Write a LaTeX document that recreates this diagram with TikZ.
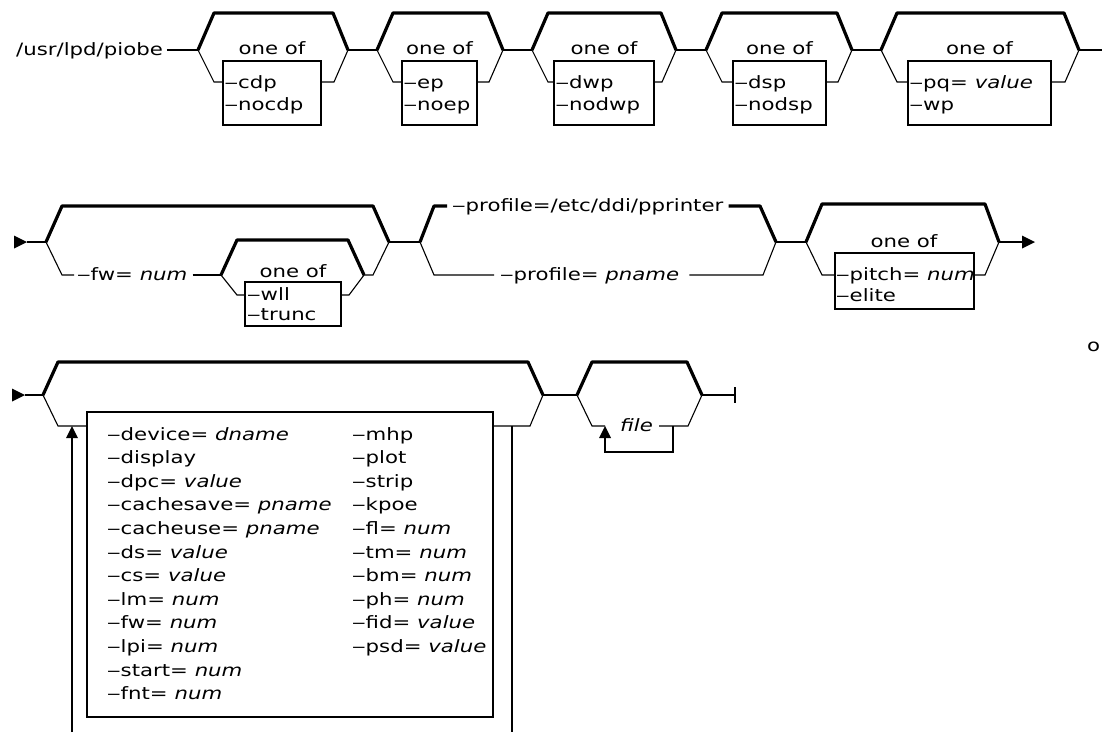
\documentclass[tikz,border=0pt]{standalone}
\usepackage{fontspec}
\setmainfont{DejaVu Sans}[FakeStretch=1.25]
\usetikzlibrary{calc}
\newcommand\dsh{\symbol{"2012}}
\newcommand\fs{\fontsize{17}{20}\selectfont}
\tikzset{
  rline/.style={line width=1.1pt},
  heavy/.style={line width=3.2pt, line join=round},
  optbox/.style={draw, line width=1.1pt, inner sep=0pt, outer sep=0pt},
  lbl/.style={inner sep=0pt, anchor=base west, font=\fs},
}
% one "one of" group of the first row: name, L, R, box left, box right, item 1, item 2
\newcommand\rowonegroup[7]{%
  \coordinate (#1L) at (#2,50);
  \coordinate (#1R) at (#3,50);
  \node[optbox, anchor=north west, minimum width={#5-#4}, minimum height=64] (#1box) at (#4,61) {};
  \node[lbl, anchor=base] (#1one) at ({(#4+#5)/2},54) {one of};
  \node[lbl] (#1a) at ({#4+1.5},88) {#6};
  \node[lbl] (#1b) at ({#4+1.5},110) {#7};
  \draw[heavy] (#1L) -- ({#2+16},13) -- ({#3-15},13) -- (#1R);
  \draw[rline] (#1L) -- ({#2+16},82) -- (#4,82);
  \draw[rline] (#5,82) -- ({#3-14},82) -- (#1R);
}
\begin{document}
\begin{tikzpicture}[x=1pt,y=-1pt]
\useasboundingbox (0,0) rectangle (1102,732);
% ---------------- row 1
\node[lbl] (cmd) at (16,55) {/usr/lpd/piobe};
\rowonegroup{ga}{198}{348}{223}{321}{\dsh cdp}{\dsh nocdp}
\rowonegroup{gb}{377}{503}{402}{477}{\dsh ep}{\dsh noep}
\rowonegroup{gc}{532}{676}{554}{654}{\dsh dwp}{\dsh nodwp}
\rowonegroup{gd}{706}{852}{733}{826}{\dsh dsp}{\dsh nodsp}
\rowonegroup{ge}{881}{1079}{908}{1051}{\dsh pq= \textit{value}}{\dsh wp}
\coordinate (r1end) at (1102,50);
\draw[rline] ($(cmd.east |- gaL)+(4,0)$) -- (gaL);
\draw[rline] (gaR) -- (gbL);
\draw[rline] (gbR) -- (gcL);
\draw[rline] (gcR) -- (gdL);
\draw[rline] (gdR) -- (geL);
\draw[rline] (geR) -- (r1end);
% ---------------- row 2
\coordinate (y2t) at (0,206);
\coordinate (y2l) at (0,275);
\coordinate (ar2) at (27,242);
\fill (ar2) -- ++(-13,-6.5) -- ++(0,13) -- cycle;
\coordinate (aL) at (46,242);
\coordinate (aR) at (389,242);
\draw[rline] (ar2) -- (aL);
\draw[heavy] (aL) -- (62,206) -- (373,206) -- (aR);
\node[lbl] (fw) at (77,280) {\dsh fw= \textit{num}};
\coordinate (bL) at (221,275);
\coordinate (bR) at (364,275);
\draw[rline] (aL) -- (62,275) -- ($(fw.west |- y2l)+(-3,0)$);
\draw[rline] ($(fw.east |- y2l)+(5,0)$) -- (bL);
\draw[heavy] (bL) -- (237,240) -- (348,240) -- (bR);
\node[optbox, anchor=north west, minimum width=96, minimum height=44] (bbox) at (245,282) {};
\node[lbl, anchor=base] (bone) at (293,277) {one of};
\node[lbl] (wll) at (247,300) {\dsh wll};
\node[lbl] (trunc) at (247,320) {\dsh trunc};
\draw[rline] (bL) -- (237,295) -- (245,295);
\draw[rline] (341,295) -- (349,295) -- (bR);
\draw[rline] (bR) -- (373,275) -- (aR);
\coordinate (cL) at (420,242);
\coordinate (cR) at (776,242);
\draw[rline] (aR) -- (cL);
\node[lbl] (prof) at (452,211) {\dsh profile=/etc/ddi/pprinter};
\draw[heavy] (cL) -- (434,206) -- ($(prof.west |- y2t)+(-5,0)$);
\draw[heavy] ($(prof.east |- y2t)+(5,0)$) -- (760,206) -- (cR);
\node[lbl] (pname) at (500,280) {\dsh profile= \textit{pname}};
\draw[rline] (cL) -- (434,275) -- ($(pname.west |- y2l)+(-6,0)$);
\draw[rline] ($(pname.east |- y2l)+(10,0)$) -- (763,275) -- (cR);
\coordinate (dL) at (806,242);
\coordinate (dR) at (999,242);
\draw[rline] (cR) -- (dL);
\draw[heavy] (dL) -- (822,204) -- (985,204) -- (dR);
\node[optbox, anchor=north west, minimum width=139, minimum height=56] (dbox) at (835,253) {};
\node[lbl, anchor=base] (done) at (904,247) {one of};
\node[lbl] (pitch) at (836,280) {\dsh pitch= \textit{num}};
\node[lbl] (elite) at (836,301) {\dsh elite};
\draw[rline] (dL) -- (822,275) -- (835,275);
\draw[rline] (974,275) -- (985,275) -- (dR);
\coordinate (ar2e) at (1035,242);
\draw[rline] (dR) -- (1024,242);
\fill (ar2e) -- ++(-13,-6.5) -- ++(0,13) -- cycle;
\node[lbl] (ostray) at (1087,351) {o};
% ---------------- row 3
\coordinate (ar3) at (25,395);
\fill (ar3) -- ++(-13,-6.5) -- ++(0,13) -- cycle;
\coordinate (eL) at (43,395);
\coordinate (eR) at (543,395);
\draw[rline] (ar3) -- (eL);
\draw[heavy] (eL) -- (58,362) -- (528,362) -- (eR);
\node[optbox, anchor=north west, minimum width=406, minimum height=305] (ebox) at (87,412) {};
\draw[rline] (eL) -- (58,426) -- (87,426);
\draw[rline] (493,426) -- (530,426) -- (eR);
\coordinate (lpR) at (512,732);
\coordinate (lpL) at (72,732);
\coordinate (lptip) at (72,426);
\draw[rline] (512,426) -- (lpR);
\draw[rline] (lpL) -- (72,437);
\fill (lptip) -- ++(-6,12) -- ++(12,0) -- cycle;
\foreach \t [count=\i] in {{\dsh device= \textit{dname}},{\dsh display},{\dsh dpc= \textit{value}},
  {\dsh cachesave= \textit{pname}},{\dsh cacheuse= \textit{pname}},{\dsh ds= \textit{value}},
  {\dsh cs= \textit{value}},{\dsh lm= \textit{num}},{\dsh fw= \textit{num}},{\dsh lpi= \textit{num}},
  {\dsh start= \textit{num}},{\dsh fnt= \textit{num}}}
  \node[lbl] (ia\i) at (107,{416.4+23.6*\i}) {\t};
\foreach \t [count=\i] in {{\dsh mhp},{\dsh plot},{\dsh strip},{\dsh kpoe},{\dsh fl= \textit{num}},
  {\dsh tm= \textit{num}},{\dsh bm= \textit{num}},{\dsh ph= \textit{num}},{\dsh fid= \textit{value}},
  {\dsh psd= \textit{value}}}
  \node[lbl] (ib\i) at (352,{416.4+23.6*\i}) {\t};
\coordinate (fL) at (577,395);
\coordinate (fR) at (702,395);
\draw[rline] (eR) -- (fL);
\draw[heavy] (fL) -- (592,362) -- (687,362) -- (fR);
\node[lbl] (file) at (620,431) {\textit{file}};
\coordinate (ftip) at (605,426);
\draw[rline] (fL) -- (592,426) -- (ftip);
\fill (ftip) -- ++(-6,12) -- ++(12,0) -- cycle;
\draw[rline] ($(file.east |- ftip)+(6,0)$) -- (688,426) -- (fR);
\draw[rline] (673,426) -- (673,452) -- (605,452) -- (605,437);
\coordinate (fend) at (735,395);
\draw[rline] (fR) -- (fend);
\draw[rline] (735,387) -- (735,403);
\end{tikzpicture}
\end{document}
